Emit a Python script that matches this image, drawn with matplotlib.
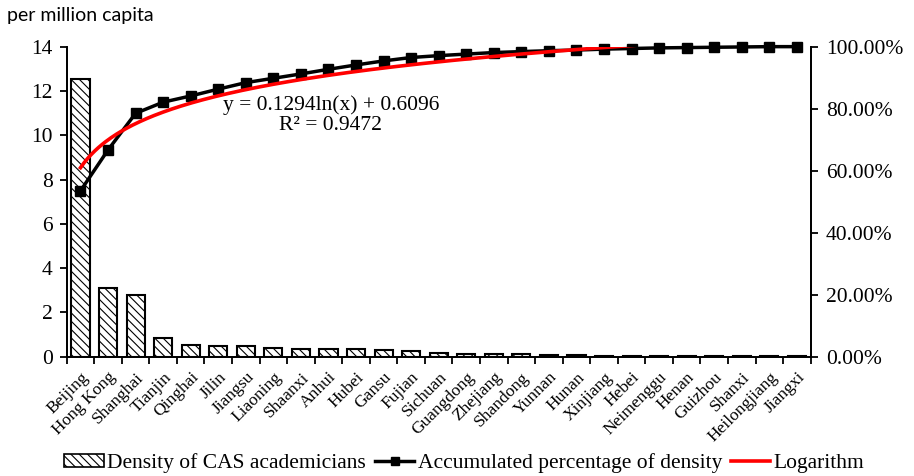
import numpy as np
import matplotlib
matplotlib.use("Agg")
import matplotlib.pyplot as plt
from matplotlib.ticker import FuncFormatter, FixedLocator
from matplotlib.patches import Patch
from matplotlib.lines import Line2D

provinces = ["Beijing", "Hong Kong", "Shanghai", "Tianjin", "Qinghai", "Jilin",
             "Jiangsu", "Liaoning", "Shaanxi", "Anhui", "Hubei", "Gansu", "Fujian",
             "Sichuan", "Guangdong", "Zhejiang", "Shandong", "Yunnan", "Hunan",
             "Xinjiang", "Hebei", "Neimenggu", "Henan", "Guizhou", "Shanxi",
             "Heilongjiang", "Jiangxi"]
# density of CAS academicians, per million capita
density = [12.56, 3.09, 2.79, 0.83, 0.53, 0.48, 0.48, 0.38, 0.37, 0.36, 0.34,
           0.30, 0.26, 0.15, 0.13, 0.13, 0.10, 0.09, 0.07, 0.05, 0.05, 0.05,
           0.04, 0.04, 0.04, 0.03, 0.02]
# accumulated percentage (fraction)
accum = [0.535, 0.667, 0.785, 0.821, 0.841, 0.863, 0.884, 0.898, 0.912, 0.927,
         0.941, 0.954, 0.965, 0.971, 0.976, 0.981, 0.984, 0.987, 0.989, 0.992,
         0.994, 0.996, 0.997, 0.998, 0.999, 1.000, 1.000]
# logarithmic trendline shown on chart
log_a = 0.1294
log_b = 0.6096

serif = "Liberation Serif"
fs = 15.5

fig = plt.figure(figsize=(9.14, 4.76), dpi=100)
ax = fig.add_axes([0.073, 0.2506, 0.814, 0.6514])
ax2 = ax.twinx()

x = np.arange(len(provinces))
plt.rcParams['hatch.linewidth'] = 0.8
ax.bar(x, density, width=0.66, color="white", edgecolor="black", linewidth=1.5,
       hatch="\\\\\\\\", zorder=2)
ax.set_xlim(-0.5, len(provinces) - 0.5)
ax.set_ylim(0, 14)
ax.set_yticks(range(0, 15, 2))

ax2.plot(x, accum, color="black", lw=2.5, marker="s", markersize=6.5, zorder=3,
         clip_on=False)
xs = np.linspace(1, len(provinces), 400)
ax2.plot(xs - 1, log_a * np.log(xs) + log_b, color="red", lw=2.6, zorder=4)
ax2.set_ylim(0, 1)
ax2.set_yticks(np.arange(0, 1.01, 0.2))
ax2.yaxis.set_major_formatter(FuncFormatter(lambda v, p: "%.2f%%" % (v * 100)))

for a in (ax, ax2):
    a.spines["top"].set_visible(False)
    for s in ("left", "right", "bottom"):
        a.spines[s].set_linewidth(1.3)
ax.set_xticks(x)
ax.set_xticklabels(provinces, rotation=45, ha="right", rotation_mode="anchor",
                   fontsize=12.5, family=serif)
ax.tick_params(axis="x", which="major", length=0, pad=9)
ax.xaxis.set_minor_locator(FixedLocator(np.arange(-0.5, len(provinces), 1.0)))
ax.tick_params(axis="x", which="minor", length=5, width=1.3, direction="out")
ax.tick_params(axis="y", length=5, width=1.3, labelsize=fs, pad=5)
ax2.tick_params(axis="y", length=5, width=1.3, labelsize=fs, pad=6)
for lab in ax.get_yticklabels() + ax2.get_yticklabels():
    lab.set_family(serif)

ax2.text(0.355, 0.78, "y = 0.1294ln(x) + 0.6096\nR² = 0.9472", transform=ax.transAxes,
         ha="center", va="center", fontsize=fs, family=serif, linespacing=1.1)

fig.text(0.008, 0.968, "per million capita", fontsize=14, family="Lato",
         ha="left", va="center")

handles = [Patch(facecolor="white", edgecolor="black", hatch="\\\\\\\\", linewidth=1.2),
           Line2D([], [], color="black", lw=2.5, marker="s", markersize=6),
           Line2D([], [], color="red", lw=2.6)]
labels = ["Density of CAS academicians", "Accumulated percentage of density", "Logarithm"]
fig.legend(handles, labels, loc="center", bbox_to_anchor=(0.508, 0.027), ncol=3,
           frameon=False, prop={"family": serif, "size": fs}, handlelength=1.85,
           handletextpad=0.15, columnspacing=0.4, handleheight=0.6)

fig.savefig("out.png", dpi=100)
